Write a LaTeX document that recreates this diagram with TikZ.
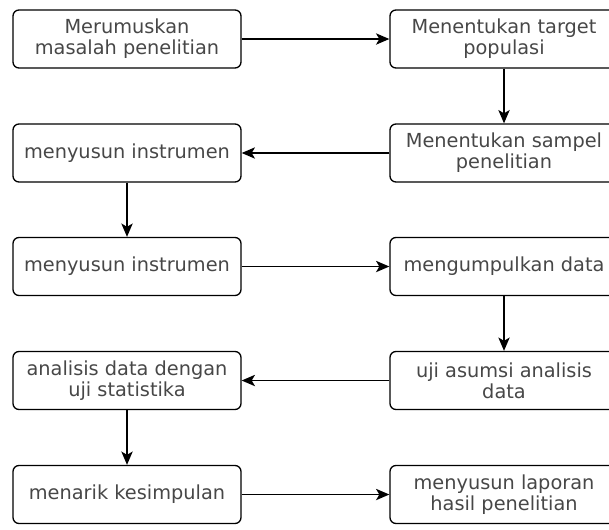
\documentclass[tikz,border=0pt]{standalone}
\usepackage{fontspec}
\setmainfont{DejaVu Sans}
\usetikzlibrary{arrows, arrows.meta}
\tikzset{block/.style = {shape = rectangle, draw, rounded corners = 4.5pt, line width = 1pt, minimum width = 171pt, minimum height = 43.5pt, align = center, text = black!72, font = \fontsize{14.5}{15.75}\selectfont}}
\tikzset{edge/.style = {-{Stealth[length = 10pt, width = 8.5pt, inset = 2.5pt]}, line width = 1pt}}

\begin{document}
\begin{tikzpicture}[x = 0.75pt, y = -0.75pt]
				\useasboundingbox (0, 0) rectangle (609, 529);
				\node[block] (masalah) at (127, 39) {Merumuskan\\masalah penelitian};
				\node[block] (populasi) at (504, 39) {Menentukan target\\populasi};
				\node[block] (sampel) at (504, 153) {Menentukan sampel\\penelitian};
				\node[block] (instrA) at (127, 153) {menyusun instrumen};
				\node[block] (instrB) at (127, 266.5) {menyusun instrumen};
				\node[block] (data) at (504, 266.5) {mengumpulkan data};
				\node[block] (asumsi) at (504, 380.5) {uji asumsi analisis\\data};
				\node[block] (analisis) at (127, 380.5) {analisis data dengan\\uji statistika};
				\node[block] (simpul) at (127, 494.5) {menarik kesimpulan};
				\node[block] (laporan) at (504, 494.5) {menyusun laporan\\hasil penelitian};

				\draw[edge] (masalah) to (populasi);
				\draw[edge] (populasi) to (sampel);
				\draw[edge] (sampel) to (instrA);
				\draw[edge] (instrA) to (instrB);
				\draw[edge] (instrB) to (data);
				\draw[edge] (data) to (asumsi);
				\draw[edge] (asumsi) to (analisis);
				\draw[edge] (analisis) to (simpul);
				\draw[edge] (simpul) to (laporan);
			\end{tikzpicture}
\end{document}
